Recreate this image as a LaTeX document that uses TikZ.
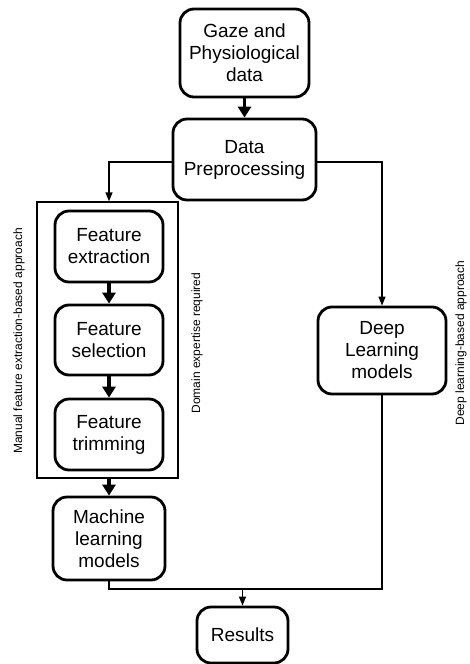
\documentclass[tikz,border=0pt]{standalone}
\usepackage{fontspec}
\setmainfont{Liberation Sans}
\usetikzlibrary{arrows.meta}
\begin{document}
\begin{tikzpicture}[x=1pt,y=-1pt,
  blk/.style={draw,line width=2.8pt,rounded corners=14pt,align=center,inner sep=0pt,
    font=\fontsize{19}{22}\selectfont},
  thin/.style={line width=1.3pt},
  tarrow/.style={thin,-{Triangle[length=9pt,width=7pt]}},
  karrow/.style={line width=3.5pt,-{Triangle[length=11pt,width=13pt]}},
  lbl/.style={font=\fontsize{12}{13}\selectfont,rotate=90,inner sep=0pt}]
\useasboundingbox (0,0) rectangle (470,664);
\node[blk,minimum width=129pt,minimum height=88pt] (gaze) at (244.5,53) {Gaze and\\Physiological\\data};
\node[blk,minimum width=143pt,minimum height=81pt] (pre) at (244.5,159.5) {Data\\Preprocessing};
\node[draw,thin,minimum width=141pt,minimum height=276pt,inner sep=0pt] (grp) at (107.5,340) {};
\node[blk,minimum width=108pt,minimum height=71pt] (fe) at (109,246.5) {Feature\\extraction};
\node[blk,minimum width=108pt,minimum height=70pt] (fs) at (109,340) {Feature\\selection};
\node[blk,minimum width=108pt,minimum height=71pt] (ft) at (109,434.5) {Feature\\trimming};
\node[blk,minimum width=112pt,minimum height=83pt] (ml) at (109,538.5) {Machine\\learning\\models};
\node[blk,minimum width=128pt,minimum height=87pt] (dl) at (382,350.5) {Deep\\Learning\\models};
\node[blk,minimum width=91pt,minimum height=56pt] (res) at (242.5,635) {Results};
\coordinate (j) at (242.5,589);
\node[lbl] (l1) at (19,341) {Manual feature extraction-based approach};
\node[lbl] (l2) at (197,343) {Domain expertise required};
\node[lbl] (l3) at (461,343) {Deep learning-based approach};
\draw[karrow] (gaze) -- (pre);
\draw[tarrow] ([yshift=-2.5pt]pre.west) -| (fe.north |- grp.north);
\draw[tarrow] ([yshift=-2.5pt]pre.east) -| (dl.north);
\draw[karrow] (fe) -- (fs);
\draw[karrow] (fs) -- (ft);
\draw[karrow] (ft.south |- grp.south) -- (ml.north);
\draw[thin] (ml.south) |- (j);
\draw[thin] (dl.south) |- (j);
\draw[tarrow] (j) -- (res.north);
\end{tikzpicture}
\end{document}
